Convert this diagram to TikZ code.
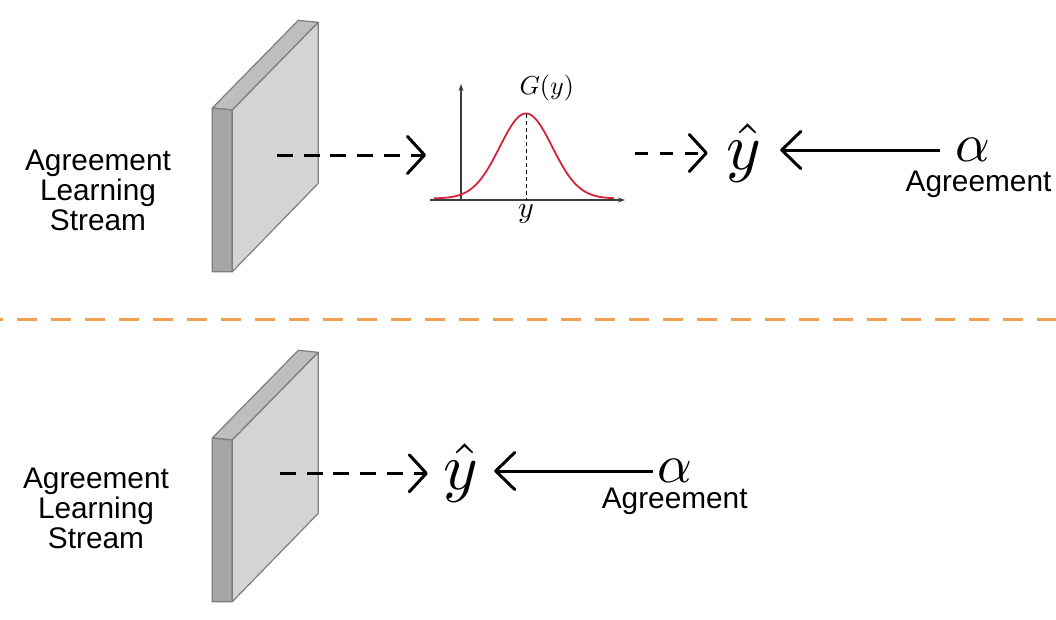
\documentclass[tikz,border=0pt]{standalone}
\usepackage[no-math]{fontspec}
\setmainfont{Liberation Sans}
\DeclareFontFamily{OML}{cmm}{\skewchar\font127 }
\DeclareFontShape{OML}{cmm}{m}{it}{<->cmmi10}{}
\DeclareFontFamily{OMS}{cmsy}{\skewchar\font48 }
\DeclareFontShape{OMS}{cmsy}{m}{n}{<->cmsy10}{}
\DeclareFontFamily{OMX}{cmex}{}
\DeclareFontShape{OMX}{cmex}{m}{n}{<->cmex10}{}
\DeclareFontFamily{OT1}{cmr}{}
\DeclareFontShape{OT1}{cmr}{m}{n}{<->cmr10}{}
\usetikzlibrary{arrows.meta}
\definecolor{slabF}{RGB}{212,212,212}
\definecolor{slabT}{RGB}{190,190,190}
\definecolor{slabS}{RGB}{165,165,165}
\definecolor{slabE}{RGB}{125,125,125}
\definecolor{sepcol}{RGB}{240,160,80}
\definecolor{gausscol}{RGB}{215,35,60}
\definecolor{axiscol}{RGB}{60,60,60}
\begin{document}
\begin{tikzpicture}[x=1pt,y=-1pt,
  slabface/.style={draw=slabE, line width=1.2pt, line join=round},
  lbl/.style={font=\fontsize{29.8}{30}\selectfont, inner sep=0pt, align=center},
  yhat/.style={font=\fontsize{66}{66}\selectfont, inner sep=0pt},
  alph/.style={font=\fontsize{54}{54}\selectfont, inner sep=0pt},
  mathsmall/.style={font=\fontsize{26}{26}\selectfont, inner sep=0pt},
  dasharr/.style={line width=3pt, dash pattern=on 16pt off 10.7pt, -{Straight Barb[length=17pt,width=37pt,round]}},
  solarr/.style={line width=3pt, -{Straight Barb[length=19pt,width=37pt,round]}},
  axisline/.style={draw=axiscol, line width=1.3pt, -{Stealth[length=7pt,width=5pt]}},
  gcurve/.style={draw=gausscol, line width=1.8pt},
  sepline/.style={draw=sepcol, line width=3.5pt, dash pattern=on 20pt off 14pt, dash phase=17pt}
]
\useasboundingbox (0,0) rectangle (1056,619);

% ---------- slabs ----------
\foreach \dy in {0,330}{
  \begin{scope}[shift={(0,\dy)}]
    \filldraw[slabface, fill=slabT] (212.3,108) -- (298.3,20.3) -- (318.3,22.3) -- (232.3,110) -- cycle;
    \filldraw[slabface, fill=slabS] (212.3,108) -- (232.3,110) -- (232.3,271.7) -- (212.3,271.7) -- cycle;
    \filldraw[slabface, fill=slabF] (232.3,110) -- (318.3,22.3) -- (318.3,183.3) -- (232.3,271.7) -- cycle;
  \end{scope}
}

% ---------- top row ----------
\node[lbl] (lab1) at (98,190.5) {Agreement\\Learning\\Stream};
\coordinate (s1) at (277,155);
\coordinate (gin) at (426,155);
\draw[dasharr] (s1) -- (gin);

% gaussian
\draw[axisline] (461,199) -- (461,84);
\draw[axisline] (430,200) -- (625,200);
\draw[gcurve] plot[domain=434:614, samples=140, smooth] (\x, {198.5-85*exp(-((\x-526)^2)/1383)});
\draw[line width=1pt, dash pattern=on 4pt off 3pt] (526,114) -- (526,200);
\node[mathsmall] (gl) at (546.7,88.3) {$G(y)$};
\node[mathsmall, font=\fontsize{30}{30}\selectfont] (yl) at (526,214) {$y$};

\coordinate (gout) at (635,153);
\node[yhat, minimum width=72pt] (yh1) at (744,153) {$\hat{y}$};
\draw[dasharr, dash pattern=on 13pt off 12pt] (gout) -- (yh1.west);
\node[alph, minimum width=66pt] (a1) at (973,150) {$\alpha$};
\draw[solarr] (a1.west) -- (a1.west -| yh1.east);
\node[lbl, anchor=base] (ag1) at (978.5,191.5) {Agreement};

% ---------- separator ----------
\coordinate (sepL) at (0,319.3);
\coordinate (sepR) at (1056,319.3);
\draw[sepline] (sepL) -- (sepR);

% ---------- bottom row ----------
\node[lbl] (lab2) at (96,508.5) {Agreement\\Learning\\Stream};
\coordinate (s2) at (280,473.3);
\node[yhat, minimum width=66pt] (yh2) at (461,473.3) {$\hat{y}$};
\draw[dasharr] (s2) -- (yh2.west);
\node[alph, minimum width=43.4pt] (a2) at (675,471) {$\alpha$};
\draw[solarr] (a2.west) -- (a2.west -| yh2.east);
\node[lbl, anchor=base] (ag2) at (674.7,508.3) {Agreement};
\end{tikzpicture}
\end{document}
